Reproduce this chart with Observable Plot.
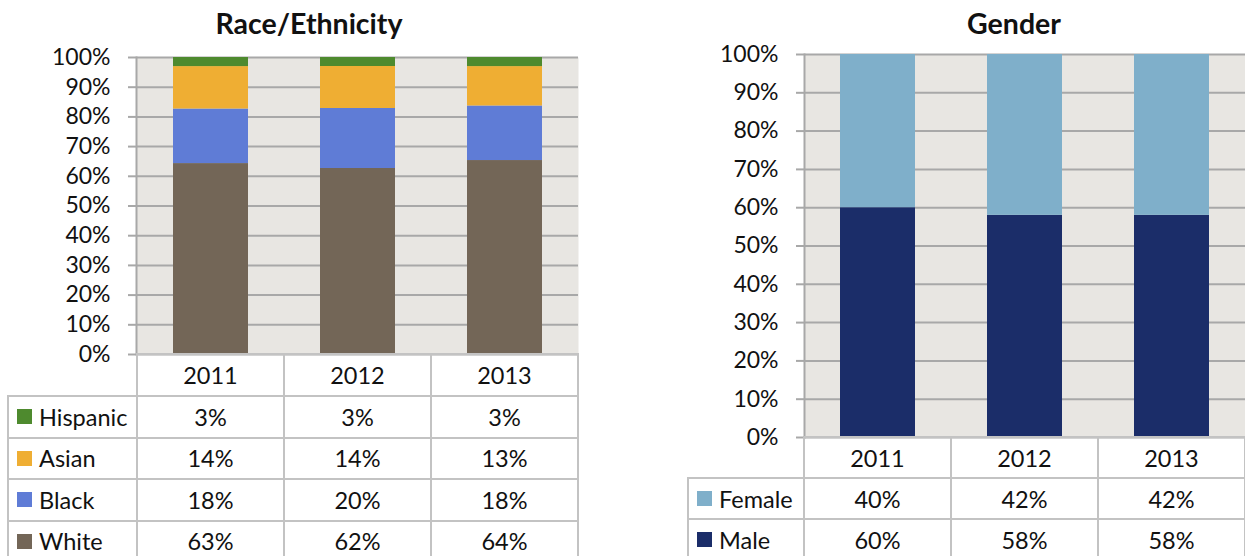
<!DOCTYPE html>
<html><head><meta charset="utf-8">
<script src="https://cdn.jsdelivr.net/npm/d3@7"></script>
<script src="https://cdn.jsdelivr.net/npm/@observablehq/plot@0.6"></script>
<style>
body{margin:0;background:#fff;font-family:Lato,"Open Sans",sans-serif;}
#root{position:relative;width:1245px;height:556px;overflow:hidden;background:#fff;}
.line{position:absolute;background:#c3c3c3;}
.cell{position:absolute;display:flex;align-items:center;justify-content:center;font-size:23.5px;color:#111;white-space:nowrap;}
.lab{position:absolute;display:flex;align-items:center;font-size:23.5px;color:#111;white-space:nowrap;}
.sw{display:inline-block;width:15px;height:15px;margin-right:7px;}
.title{position:absolute;font-weight:bold;font-size:28.5px;color:#111;white-space:nowrap;transform:translateX(-50%);}
</style></head><body><div id="root"></div>
<script>
// ---- data ----
const years = ["2011", "2012", "2013"];
const yTicks = [0, 0.1, 0.2, 0.3, 0.4, 0.5, 0.6, 0.7, 0.8, 0.9, 1.0];

// Race/Ethnicity (stack order bottom -> top)
const raceSeries = ["White", "Black", "Asian", "Hispanic"];
const raceWhite = [63, 62, 64];
const raceBlack = [18, 20, 18];
const raceAsian = [14, 14, 13];
const raceHispanic = [3, 3, 3];
const raceColors = ["#736657", "#5f7cd6", "#efae33", "#4e8a2e"];

// Gender (stack order bottom -> top)
const genderSeries = ["Male", "Female"];
const genderMale = [60, 58, 58];
const genderFemale = [40, 42, 42];
const genderColors = ["#1b2d69", "#7fafca"];

const plotBg = "#e8e6e2";
const gridColor = "#a8a8a8";
const root = document.getElementById("root");

function add(cls, styles, html) {
  const d = document.createElement("div");
  d.className = cls;
  Object.assign(d.style, styles);
  if (html != null) d.innerHTML = html;
  root.appendChild(d);
  return d;
}
function hline(x1, x2, y) { add("line", {left: x1 + "px", top: (y - 1) + "px", width: (x2 - x1) + "px", height: "2px"}); }
function vline(x, y1, y2) { add("line", {left: (x - 1) + "px", top: y1 + "px", width: "2px", height: (y2 - y1) + "px"}); }

function drawChart(cfg) {
  const data = [];
  cfg.series.forEach((s, i) => cfg.values[i].forEach((v, j) => data.push({year: years[j], series: s, value: v})));
  const width = cfg.svgWidth;
  const chart = Plot.plot({
    width,
    height: cfg.plotBottom + 3,
    marginLeft: cfg.plotLeft - cfg.svgLeft,
    marginRight: cfg.svgLeft + width - cfg.plotRight,
    marginTop: cfg.plotTop,
    marginBottom: 3,
    style: {fontFamily: "Lato, 'Open Sans', sans-serif", fontSize: "23px", color: "#111", background: "transparent", overflow: "visible"},
    x: {type: "band", domain: years, paddingInner: 0.49, paddingOuter: 0.245, axis: null},
    y: {domain: [0, 1], axis: null},
    color: {domain: cfg.series, range: cfg.colors},
    marks: [
      Plot.frame({fill: plotBg, stroke: "none"}),
      Plot.gridY(yTicks, {stroke: gridColor, strokeWidth: 2, strokeOpacity: 1}),
      Plot.barY(data, Plot.stackY({offset: "normalize"}, {x: "year", y: "value", fill: "series"})),
      Plot.axisY(yTicks, {tickFormat: d3.format(".0%"), tickSize: 8, tickPadding: 18, stroke: gridColor, strokeWidth: 2, fill: "#111", fontSize: 23, label: null}),
      Plot.frame({anchor: "left", stroke: gridColor, strokeWidth: 2})
    ]
  });
  chart.style.position = "absolute";
  chart.style.left = cfg.svgLeft + "px";
  chart.style.top = "0px";
  root.appendChild(chart);

  // title
  add("title", {left: cfg.titleX + "px", top: "6px"}, cfg.title);

  // data table below, aligned with the x band scale
  const xs = chart.scale("x");
  const step = xs.step;
  const centers = years.map(y => cfg.svgLeft + xs.apply(y) + xs.bandwidth / 2);
  const colLefts = centers.map(c => c - step / 2);
  const tableRight = colLefts[colLefts.length - 1] + step;
  const headTop = cfg.plotBottom;
  const headBottom = headTop + cfg.headH;
  const rows = cfg.series.slice().reverse();
  const rowVals = cfg.values.slice().reverse();
  const rowColors = cfg.colors.slice().reverse();
  const bottom = headBottom + rows.length * cfg.rowH;

  // lines
  hline(cfg.plotLeft, tableRight, headTop);
  for (let r = 0; r <= rows.length; r++) hline(cfg.labelLeft, tableRight, headBottom + r * cfg.rowH);
  vline(cfg.labelLeft, headBottom - 1, bottom + 2);
  colLefts.forEach(x => vline(x, headTop, bottom + 2));
  vline(tableRight, headTop - 1, bottom + 2);

  // header
  years.forEach((y, j) => add("cell", {left: colLefts[j] + "px", top: headTop + "px", width: step + "px", height: cfg.headH + "px"}, y));
  rows.forEach((s, r) => {
    const top = headBottom + r * cfg.rowH;
    add("lab", {left: (cfg.labelLeft + 9) + "px", top: top + "px", height: cfg.rowH + "px"},
      `<span class="sw" style="background:${rowColors[r]}"></span>${s}`);
    rowVals[r].forEach((v, j) => add("cell", {left: colLefts[j] + "px", top: top + "px", width: step + "px", height: cfg.rowH + "px"}, v + "%"));
  });
}

drawChart({
  title: "Race/Ethnicity", titleX: 309,
  series: raceSeries, values: [raceWhite, raceBlack, raceAsian, raceHispanic], colors: raceColors,
  svgLeft: 0, svgWidth: 600, plotLeft: 136, plotRight: 578, plotTop: 57, plotBottom: 354,
  labelLeft: 8, headH: 42, rowH: 41.5
});
drawChart({
  title: "Gender", titleX: 1014,
  series: genderSeries, values: [genderMale, genderFemale], colors: genderColors,
  svgLeft: 680, svgWidth: 565, plotLeft: 804, plotRight: 1245, plotTop: 54, plotBottom: 437,
  labelLeft: 688, headH: 41, rowH: 41
});
</script></body></html>
